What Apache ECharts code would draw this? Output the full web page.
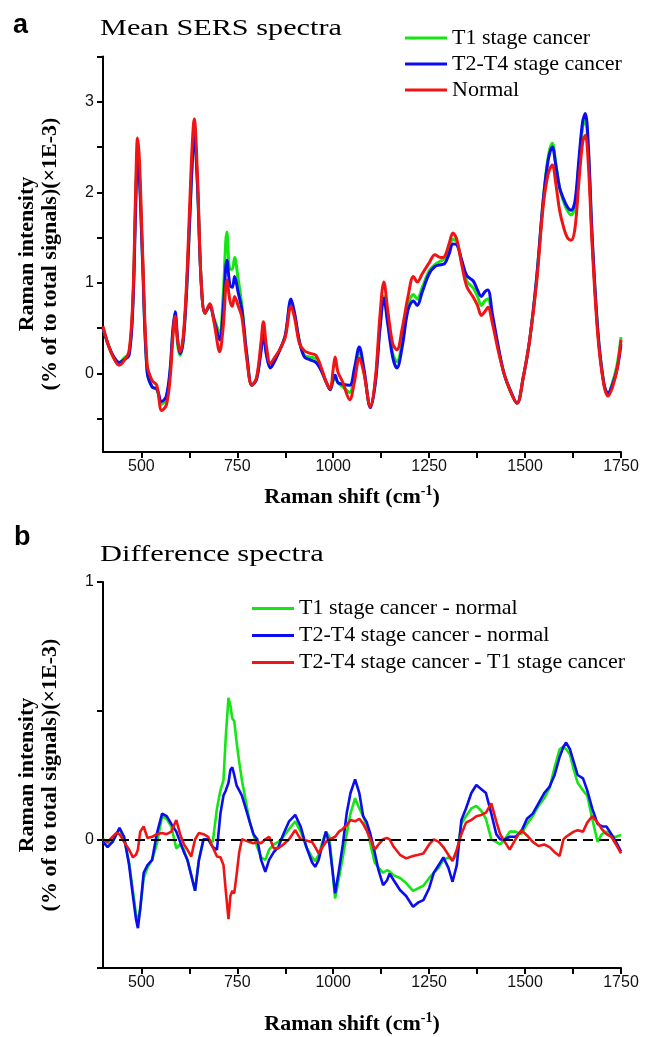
<!DOCTYPE html>
<html><head><meta charset="utf-8">
<script src="https://cdn.jsdelivr.net/npm/echarts@6/dist/echarts.min.js"></script>
<style>html,body{margin:0;padding:0;background:#fff}#c{width:645px;height:1037px}</style>
</head><body><div id="c"></div>
<script>
// ---------- Panel a: mean SERS spectra ----------
const xTop = [400,415,430,442,455,468,478,485,490,495,
503,515,528,540,553,565,575,582,588,595,
601,610,620,630,638,646,656,666,678,690,
704,713,723,731,737,743,752,762,775,788,
800,812,818,826,836,848,860,875,890,900,
912,925,940,955,970,982,992,1000,1005,1012,
1025,1043,1055,1068,1080,1097,1110,1122,1132,1142,
1155,1166,1180,1195,1209,1219,1232,1250,1265,1280,
1290,1302,1312,1322,1335,1348,1365,1376,1386,1395,
1403,1415,1430,1445,1460,1479,1495,1512,1530,1547,
1560,1571,1580,1590,1600,1610,1620,1630,1640,1650,
1657,1665,1675,1690,1705,1716,1728,1740,1750];
const t1Top = [0.50,0.30,0.16,0.12,0.17,0.22,0.80,1.90,2.42,2.20,
1.28,0.02,-0.15,-0.18,-0.34,-0.28,0.02,0.45,0.64,0.30,
0.20,0.40,1.10,2.10,2.64,2.10,1.00,0.66,0.75,0.60,
0.45,0.85,1.56,1.15,1.15,1.28,1.05,0.75,0.20,-0.13,
-0.06,0.28,0.48,0.22,0.08,0.15,0.25,0.42,0.79,0.63,
0.35,0.20,0.18,0.16,0.02,-0.10,-0.18,-0.08,-0.05,-0.10,
-0.15,-0.21,0.00,0.24,0.02,-0.37,-0.08,0.52,0.85,0.58,
0.22,0.13,0.35,0.75,0.87,0.82,0.95,1.13,1.20,1.24,
1.27,1.38,1.48,1.45,1.22,1.02,0.94,0.85,0.75,0.80,
0.82,0.60,0.28,0.00,-0.18,-0.33,-0.05,0.37,1.05,1.90,
2.38,2.54,2.32,2.05,1.90,1.80,1.75,1.85,2.30,2.72,
2.80,2.45,1.48,0.45,-0.10,-0.23,-0.10,0.10,0.40];
const t24Top = [0.50,0.30,0.17,0.12,0.15,0.20,0.75,1.80,2.35,2.15,
1.25,0.02,-0.15,-0.17,-0.31,-0.25,0.05,0.48,0.68,0.35,
0.22,0.40,1.10,2.10,2.62,2.10,1.00,0.67,0.74,0.58,
0.37,0.70,1.25,0.97,0.95,1.07,0.90,0.70,0.20,-0.13,
-0.07,0.25,0.44,0.20,0.06,0.14,0.25,0.42,0.82,0.65,
0.35,0.18,0.15,0.12,0.02,-0.10,-0.18,-0.06,-0.02,-0.10,
-0.12,-0.13,0.05,0.29,0.05,-0.38,-0.10,0.50,0.83,0.55,
0.18,0.06,0.30,0.70,0.80,0.75,0.90,1.10,1.18,1.20,
1.21,1.32,1.43,1.42,1.25,1.08,1.02,0.92,0.85,0.90,
0.92,0.65,0.30,0.00,-0.17,-0.33,-0.05,0.37,1.05,1.90,
2.35,2.50,2.30,2.05,1.93,1.84,1.80,1.90,2.35,2.78,
2.87,2.50,1.50,0.45,-0.10,-0.22,-0.12,0.05,0.32];
const normalTop = [0.52,0.30,0.15,0.09,0.14,0.25,0.85,2.00,2.60,2.35,
1.35,0.10,-0.08,-0.13,-0.41,-0.35,-0.05,0.40,0.63,0.35,
0.24,0.45,1.20,2.30,2.81,2.20,1.00,0.66,0.77,0.55,
0.24,0.50,1.03,0.80,0.74,0.85,0.75,0.62,0.15,-0.13,
-0.05,0.35,0.57,0.30,0.11,0.18,0.26,0.40,0.74,0.60,
0.33,0.25,0.22,0.20,0.05,-0.10,-0.17,0.05,0.18,0.02,
-0.10,-0.29,-0.10,0.17,0.00,-0.37,-0.05,0.65,1.01,0.70,
0.33,0.26,0.50,0.85,1.07,1.01,1.10,1.22,1.31,1.28,
1.29,1.43,1.55,1.48,1.20,0.96,0.84,0.75,0.64,0.68,
0.73,0.55,0.25,0.00,-0.18,-0.33,-0.05,0.37,1.00,1.84,
2.20,2.30,2.10,1.80,1.62,1.50,1.47,1.60,2.10,2.55,
2.63,2.30,1.40,0.40,-0.12,-0.25,-0.15,0.05,0.37];

// ---------- Panel b: difference spectra ----------
const xBot = [400,412,425,435,443,455,468,478,486,491,
497,506,516,528,540,554,566,578,591,601,
611,620,630,640,650,662,674,686,697,706,
714,720,727,732,737,742,748,755,762,772,
782,792,802,812,823,833,845,857,870,885,
901,915,930,945,953,962,972,981,990,998,
1005,1015,1025,1035,1045,1057,1068,1078,1087,1097,
1108,1118,1130,1140,1147,1158,1174,1190,1208,1222,
1235,1250,1262,1275,1287,1300,1311,1322,1334,1346,
1360,1373,1386,1398,1412,1425,1435,1447,1460,1475,
1490,1505,1520,1535,1550,1564,1577,1590,1600,1607,
1617,1627,1637,1651,1662,1675,1689,1700,1712,1725,
1737,1750];
const t1MinusNormal = [0.00,-0.015,-0.01,0.02,0.04,0.00,-0.09,-0.20,-0.29,-0.32,
-0.27,-0.15,-0.11,-0.08,-0.02,0.09,0.08,0.05,-0.035,-0.02,
-0.04,-0.08,-0.14,-0.20,-0.08,0.00,0.00,-0.01,0.12,0.19,
0.23,0.40,0.55,0.52,0.47,0.46,0.38,0.30,0.23,0.15,
0.07,0.02,-0.03,-0.07,-0.08,-0.04,-0.02,-0.01,0.01,0.04,
0.07,0.03,-0.03,-0.07,-0.085,-0.06,-0.01,0.03,0.01,-0.12,
-0.23,-0.15,-0.07,0.02,0.10,0.16,0.12,0.09,0.05,-0.02,
-0.09,-0.11,-0.13,-0.12,-0.125,-0.14,-0.15,-0.17,-0.20,-0.19,
-0.18,-0.15,-0.13,-0.11,-0.08,-0.07,-0.08,-0.06,0.06,0.09,
0.12,0.13,0.11,0.08,0.00,-0.01,-0.02,0.00,0.03,0.03,
0.02,0.06,0.09,0.13,0.16,0.20,0.28,0.35,0.36,0.35,
0.33,0.27,0.22,0.19,0.17,0.08,-0.01,0.02,0.03,0.01,
0.01,0.017];
const t24MinusNormal = [-0.01,-0.03,-0.01,0.02,0.045,0.01,-0.10,-0.22,-0.31,-0.345,
-0.27,-0.13,-0.10,-0.08,0.02,0.10,0.09,0.06,0.03,-0.01,
-0.05,-0.08,-0.14,-0.20,-0.08,0.00,0.00,-0.03,-0.04,0.10,
0.17,0.19,0.22,0.27,0.28,0.25,0.21,0.19,0.17,0.12,
0.07,0.02,0.00,-0.08,-0.126,-0.08,-0.05,-0.03,0.02,0.07,
0.095,0.05,-0.03,-0.09,-0.107,-0.08,-0.02,0.03,-0.02,-0.12,
-0.21,-0.12,-0.02,0.10,0.18,0.233,0.18,0.09,0.068,0.02,
-0.05,-0.12,-0.178,-0.16,-0.133,-0.16,-0.197,-0.22,-0.262,-0.245,
-0.236,-0.19,-0.13,-0.10,-0.07,-0.11,-0.165,-0.10,0.075,0.12,
0.18,0.211,0.195,0.18,0.10,0.02,0.00,0.00,0.01,0.01,
0.03,0.08,0.10,0.14,0.18,0.205,0.25,0.32,0.36,0.376,
0.35,0.30,0.25,0.237,0.19,0.12,0.06,0.05,0.05,0.02,
-0.01,-0.048];
const t24MinusT1 = [0.00,-0.01,0.01,0.025,0.02,-0.01,-0.04,-0.07,-0.06,-0.04,
0.03,0.05,0.005,0.01,0.02,0.025,0.02,0.03,0.075,0.02,
-0.02,-0.04,-0.067,0.00,0.025,0.02,0.01,-0.03,-0.067,-0.07,
-0.10,-0.20,-0.31,-0.22,-0.20,-0.21,-0.14,-0.05,0.00,-0.005,
-0.01,-0.015,-0.01,-0.015,0.00,0.01,-0.035,-0.035,-0.02,0.00,
0.036,0.00,-0.005,-0.01,-0.03,-0.055,-0.03,-0.01,0.00,0.005,
0.01,0.03,0.04,0.055,0.075,0.07,0.08,0.06,0.035,0.00,
-0.04,-0.02,0.00,0.005,0.00,-0.03,-0.06,-0.074,-0.065,-0.06,
-0.055,-0.02,0.00,-0.01,-0.03,-0.06,-0.084,-0.04,0.02,0.065,
0.075,0.09,0.095,0.104,0.14,0.07,0.02,-0.01,-0.04,0.00,
0.036,0.015,-0.01,-0.026,-0.02,-0.03,-0.05,-0.065,0.00,0.01,
0.02,0.03,0.035,0.03,0.065,0.09,0.065,0.04,0.02,0.01,
-0.02,-0.055];

// ---------- Axis ticks / labels ----------
const xTickVals = [500,625,750,875,1000,1125,1250,1375,1500,1625,1750];
const xLabelVals = [500,750,1000,1250,1500,1750];
const yTopTickVals = [-0.5,0,0.5,1,1.5,2,2.5,3,3.5];
const yTopLabelVals = [0,1,2,3];
const yBotTickVals = [-0.5,0,0.5,1];
const yBotLabelVals = [0,1];

const namesTop = ['T1 stage cancer','T2-T4 stage cancer','Normal'];
const namesBot = ['T1 stage cancer - normal','T2-T4 stage cancer - normal','T2-T4 stage cancer - T1 stage cancer'];

const serif = '"Liberation Serif", "Times New Roman", serif';
const sans = '"Liberation Sans", Arial, sans-serif';
const GREEN = '#14e614', BLUE = '#0c0cf0', RED = '#f01414';

const pair = (xs, ys) => xs.map((x, i) => [x, ys[i]]);

function xAxisCfg(gi) {
  return {
    type: 'value', gridIndex: gi, min: 400, max: 1750,
    axisLine: { onZero: false, lineStyle: { color: '#000', width: 2 } },
    axisTick: { show: true, customValues: xTickVals, length: 6, lineStyle: { color: '#000', width: 2 } },
    axisLabel: { customValues: xLabelVals, formatter: v => String(v), fontFamily: sans, fontSize: 16, color: '#111', margin: 7 },
    splitLine: { show: false }
  };
}
function yAxisCfg(gi, min, max, ticks, labels) {
  return {
    type: 'value', gridIndex: gi, min: min, max: max,
    axisLine: { show: true, onZero: false, lineStyle: { color: '#000', width: 2 } },
    axisTick: { show: true, customValues: ticks, length: 6, lineStyle: { color: '#000', width: 2 } },
    axisLabel: { customValues: labels, formatter: v => String(v), fontFamily: sans, fontSize: 16, color: '#111', margin: 9 },
    splitLine: { show: false }
  };
}
function lineSeries(name, gi, data, color, smooth, width) {
  return {
    name: name, type: 'line', xAxisIndex: gi, yAxisIndex: gi, data: data,
    showSymbol: false, symbol: 'none', smooth: smooth, color: color,
    lineStyle: { color: color, width: width }, silent: true
  };
}

const chart = echarts.init(document.getElementById('c'));
const botGreen = lineSeries(namesBot[0], 1, pair(xBot, t1MinusNormal), GREEN, false, 2.6);
botGreen.markLine = {
  silent: true, symbol: 'none', label: { show: false },
  lineStyle: { color: '#000', width: 2, type: [10, 6] },
  data: [{ yAxis: 0 }]
};

const legendCommon = {
  orient: 'vertical', icon: 'rect', itemWidth: 42, itemHeight: 3, itemGap: 0,
  padding: 0, selectedMode: false
};

const option = {
  backgroundColor: '#fff',
  animation: false,
  grid: [
    { left: 103, right: 24, top: 56.4, height: 395.6 },
    { left: 103, right: 24, top: 582, height: 386 }
  ],
  xAxis: [xAxisCfg(0), xAxisCfg(1)],
  yAxis: [
    yAxisCfg(0, -0.868, 3.5, yTopTickVals, yTopLabelVals),
    yAxisCfg(1, -0.5, 1, yBotTickVals, yBotLabelVals)
  ],
  legend: [
    Object.assign({}, legendCommon, { data: namesTop, left: 405, top: 25,
      textStyle: { fontFamily: serif, fontSize: 22, color: '#000', lineHeight: 26 } }),
    Object.assign({}, legendCommon, { data: namesBot, left: 252, top: 595,
      textStyle: { fontFamily: serif, fontSize: 22, color: '#000', lineHeight: 27 } })
  ],
  series: [
    lineSeries(namesTop[0], 0, pair(xTop, t1Top), GREEN, 0.35, 3),
    lineSeries(namesTop[1], 0, pair(xTop, t24Top), BLUE, 0.35, 3),
    lineSeries(namesTop[2], 0, pair(xTop, normalTop), RED, 0.35, 3),
    botGreen,
    lineSeries(namesBot[1], 1, pair(xBot, t24MinusNormal), BLUE, false, 2.6),
    lineSeries(namesBot[2], 1, pair(xBot, t24MinusT1), RED, false, 2.6)
  ],
  graphic: [
    { type: 'text', x: 13, y: 26, style: { text: 'a', font: 'bold 27px ' + sans, fill: '#000', align: 'left', verticalAlign: 'middle' } },
    { type: 'text', x: 100, y: 29, scaleX: 1.26, style: { text: 'Mean SERS spectra', font: '24px ' + serif, fill: '#000', align: 'left', verticalAlign: 'middle' } },
    { type: 'text', x: 38.5, y: 254, rotation: Math.PI / 2, style: { text: 'Raman intensity\n(% of to total signals)(×1E-3)', font: 'bold 22px ' + serif, lineHeight: 23, fill: '#000', align: 'center', verticalAlign: 'middle' } },
    { type: 'text', x: 352, y: 497, style: { text: '{a|Raman shift (cm}{s|-1}{a|)}', align: 'center', verticalAlign: 'middle',
        rich: { a: { fontFamily: serif, fontWeight: 'bold', fontSize: 22, fill: '#000', lineHeight: 26 },
                s: { fontFamily: serif, fontWeight: 'bold', fontSize: 14, fill: '#000', verticalAlign: 'top', lineHeight: 14 } } } },
    { type: 'text', x: 14, y: 538, style: { text: 'b', font: 'bold 27px ' + sans, fill: '#000', align: 'left', verticalAlign: 'middle' } },
    { type: 'text', x: 100, y: 555, scaleX: 1.27, style: { text: 'Difference spectra', font: '24px ' + serif, fill: '#000', align: 'left', verticalAlign: 'middle' } },
    { type: 'text', x: 38.5, y: 775, rotation: Math.PI / 2, style: { text: 'Raman intensity\n(% of to total signals)(×1E-3)', font: 'bold 22px ' + serif, lineHeight: 23, fill: '#000', align: 'center', verticalAlign: 'middle' } },
    { type: 'text', x: 352, y: 1024, style: { text: '{a|Raman shift (cm}{s|-1}{a|)}', align: 'center', verticalAlign: 'middle',
        rich: { a: { fontFamily: serif, fontWeight: 'bold', fontSize: 22, fill: '#000', lineHeight: 26 },
                s: { fontFamily: serif, fontWeight: 'bold', fontSize: 14, fill: '#000', verticalAlign: 'top', lineHeight: 14 } } } }
  ]
};
chart.setOption(option);
</script>
</body></html>
